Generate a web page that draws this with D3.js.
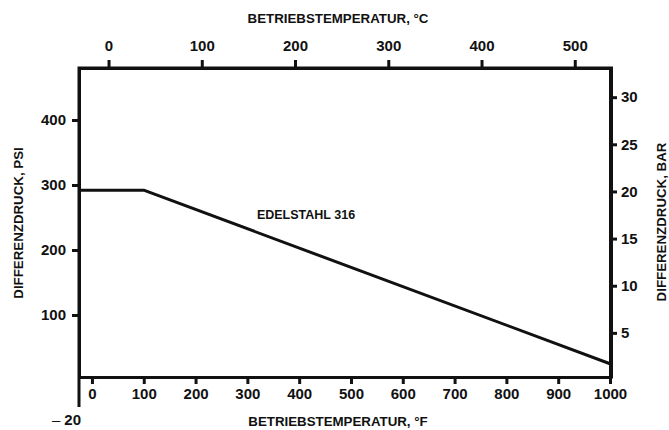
<!DOCTYPE html>
<html>
<head>
<meta charset="utf-8">
<script src="https://cdn.jsdelivr.net/npm/d3@7"></script>
<style>
    body { margin: 0; background: #fff; }
    svg { display: block; font-family: "Liberation Sans", Arial, sans-serif; font-weight: bold; }
    .axis text { font-size: 15px; font-weight: bold; fill: #111; }
    .axis line, .axis path { stroke: #111; stroke-width: 3; }
    .title { font-size: 13.3px; fill: #111; }
</style>
</head>
<body>
<div id="chart"></div>
<script>
// Data: differential pressure for stainless 316 over operating temperature
const tempF = [-25, 100, 1000];
const pressurePsi = [292, 292, 25];

// Tick values
const ticksF = [0, 100, 200, 300, 400, 500, 600, 700, 800, 900, 1000];
const ticksC = [0, 100, 200, 300, 400, 500];
const ticksPsi = [100, 200, 300, 400];
const ticksBar = [5, 10, 15, 20, 25, 30];

const PSI_PER_BAR = 14.5038;

const width = 669, height = 430;
const frame = {left: 79, right: 610, top: 68, bottom: 377};
const fmt = d3.format('d');

const svg = d3.select('#chart')
    .append('svg')
    .attr('width', width)
    .attr('height', height);

// Scales
const xF = d3.scaleLinear().domain([-25, 1000]).range([frame.left, frame.right]);
const xC = d3.scaleLinear()
    .domain(xF.domain().map(f => (f - 32) / 1.8))
    .range(xF.range());
const yPsi = d3.scaleLinear().domain([4.6, 480]).range([frame.bottom, frame.top]);
const yBar = d3.scaleLinear()
    .domain(yPsi.domain().map(p => p / PSI_PER_BAR))
    .range(yPsi.range());

// Axes
svg.append('g')
    .attr('class', 'axis')
    .attr('transform', `translate(0,${frame.bottom})`)
    .call(d3.axisBottom(xF).tickValues(ticksF).tickFormat(fmt).tickSize(7).tickSizeOuter(0).tickPadding(4));

svg.append('g')
    .attr('class', 'axis')
    .attr('transform', `translate(0,${frame.top})`)
    .call(d3.axisTop(xC).tickValues(ticksC).tickFormat(fmt).tickSize(8).tickSizeOuter(0).tickPadding(9));

svg.append('g')
    .attr('class', 'axis')
    .attr('transform', `translate(${frame.left},0)`)
    .call(d3.axisLeft(yPsi).tickValues(ticksPsi).tickFormat(fmt).tickSize(7).tickSizeOuter(0).tickPadding(6));

svg.append('g')
    .attr('class', 'axis')
    .attr('transform', `translate(${frame.right},0)`)
    .call(d3.axisRight(yBar).tickValues(ticksBar).tickFormat(fmt).tickSize(7).tickSizeOuter(0).tickPadding(4));

// Frame corners and left extension down to -20
svg.append('path')
    .attr('d', `M${frame.left},407 V${frame.top - 1.5} M${frame.left - 1.5},${frame.top} H${frame.right + 1.5} V${frame.bottom + 1.5}`)
    .attr('fill', 'none')
    .attr('stroke', '#111')
    .attr('stroke-width', 3);

// Data line
const line = d3.line()
    .x((d, i) => xF(tempF[i]))
    .y(d => yPsi(d));

svg.append('path')
    .datum(pressurePsi)
    .attr('d', line)
    .attr('fill', 'none')
    .attr('stroke', '#111')
    .attr('stroke-width', 3)
    .attr('stroke-linejoin', 'round');

// Labels
svg.append('text')
    .attr('class', 'title')
    .attr('x', 338).attr('y', 23)
    .attr('text-anchor', 'middle')
    .text('BETRIEBSTEMPERATUR, °C');

svg.append('text')
    .attr('class', 'title')
    .attr('x', 338).attr('y', 426)
    .attr('text-anchor', 'middle')
    .text('BETRIEBSTEMPERATUR, °F');

svg.append('text')
    .attr('class', 'title')
    .attr('transform', 'translate(23,223) rotate(-90)')
    .attr('text-anchor', 'middle')
    .text('DIFFERENZDRUCK, PSI');

svg.append('text')
    .attr('class', 'title')
    .attr('transform', 'translate(666,222) rotate(-90)')
    .attr('text-anchor', 'middle')
    .text('DIFFERENZDRUCK, BAR');

svg.append('text')
    .attr('class', 'title')
    .style('font-size', '12.5px')
    .attr('x', 306).attr('y', 219)
    .attr('text-anchor', 'middle')
    .text('EDELSTAHL 316');

const minus = svg.append('text')
    .attr('x', 52).attr('y', 425)
    .style('font-size', '15px')
    .attr('fill', '#111');
minus.append('tspan').style('font-weight', 'normal').text('–');
minus.append('tspan').attr('dx', 4).text('20');
</script>
</body>
</html>
